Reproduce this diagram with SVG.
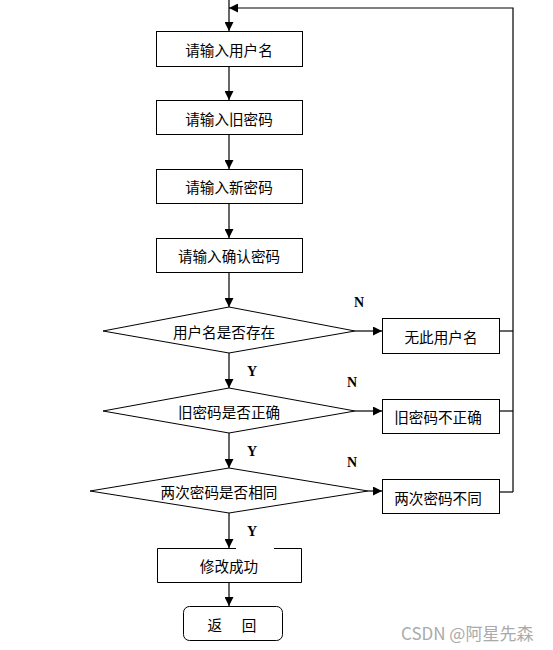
<svg xmlns="http://www.w3.org/2000/svg" width="553" height="650" viewBox="0 0 553 650">
<style>
.box{fill:#fff;stroke:#000;stroke-width:1}
.ln{fill:none;stroke:#000;stroke-width:1.2}
.t{font-family:"Noto Sans CJK SC","Noto Sans",sans-serif;font-size:14.6px;fill:#000;text-anchor:middle;dominant-baseline:central}
.yn{font-family:"Liberation Serif",serif;font-size:14px;font-weight:bold;fill:#000;text-anchor:middle;dominant-baseline:central}
.wm{font-family:"Noto Sans CJK SC","Noto Sans",sans-serif;font-size:17px;fill:#aaa;dominant-baseline:central}
</style>
<defs>
<marker id="ah" viewBox="0 0 10 10" refX="10" refY="5" markerWidth="9" markerHeight="9" markerUnits="userSpaceOnUse" orient="auto">
<path d="M0,0 L10,5 L0,10 z" fill="#000"/>
</marker>
</defs>
<rect width="553" height="650" fill="#fff"/>
<g id="connectors">
<path class="ln" d="M229,0 V31" marker-end="url(#ah)"/>
<path class="ln" d="M513,492 V8 H229" marker-end="url(#ah)"/>
<path class="ln" d="M229,67 V100" marker-end="url(#ah)"/>
<path class="ln" d="M229,135 V169" marker-end="url(#ah)"/>
<path class="ln" d="M229,204 V238" marker-end="url(#ah)"/>
<path class="ln" d="M229,272 V307" marker-end="url(#ah)"/>
<path class="ln" d="M229,353 V388" marker-end="url(#ah)"/>
<path class="ln" d="M229,433 V468" marker-end="url(#ah)"/>
<path class="ln" d="M229,513 V548" marker-end="url(#ah)"/>
<path class="ln" d="M229,582 V606" marker-end="url(#ah)"/>
<path class="ln" d="M355,331 H382" marker-end="url(#ah)"/>
<path class="ln" d="M355,411 H382" marker-end="url(#ah)"/>
<path class="ln" d="M368,491 H382" marker-end="url(#ah)"/>
<path class="ln" d="M500,331 H513"/>
<path class="ln" d="M500,411 H513"/>
<path class="ln" d="M500,492 H513"/>
<text class="yn" x="359" y="302">N</text>
<text class="yn" x="352" y="382">N</text>
<text class="yn" x="352" y="462">N</text>
<text class="yn" x="252" y="371">Y</text>
<text class="yn" x="252" y="451">Y</text>
<text class="yn" x="252" y="531">Y</text>
</g>
<g id="n1"><rect class="box" x="156.5" y="31.5" width="146" height="35"/><text class="t" x="229" y="49">请输入用户名</text></g>
<g id="n2"><rect class="box" x="156.5" y="100.5" width="146" height="34"/><text class="t" x="229" y="118">请输入旧密码</text></g>
<g id="n3"><rect class="box" x="156.5" y="169.5" width="146" height="34"/><text class="t" x="229" y="186">请输入新密码</text></g>
<g id="n4"><rect class="box" x="156.5" y="238.5" width="146" height="34"/><text class="t" x="229" y="255">请输入确认密码</text></g>
<g id="d1"><polygon class="box" points="229,307 355,331 229,353 103,331"/><text class="t" x="224" y="331">用户名是否存在</text></g>
<g id="e1"><rect class="box" x="382.5" y="318.5" width="117" height="35"/><text class="t" x="441" y="336">无此用户名</text></g>
<g id="d2"><polygon class="box" points="229,388 355,411 229,433 103,411"/><text class="t" x="229" y="411">旧密码是否正确</text></g>
<g id="e2"><rect class="box" x="382.5" y="399.5" width="117" height="34"/><text class="t" x="438" y="416">旧密码不正确</text></g>
<g id="d3"><polygon class="box" points="229,468 368,491 229,513 90,491"/><text class="t" x="219" y="491">两次密码是否相同</text></g>
<g id="e3"><rect class="box" x="382.5" y="479.5" width="117" height="34"/><text class="t" x="438" y="497">两次密码不同</text></g>
<g id="n5"><rect x="157.5" y="548.5" width="144" height="34" fill="#fff"/><path class="ln" style="stroke-width:1" d="M236,548.5 H157.5 V582.5 H301.5 V548.5 H274"/><text class="t" x="229" y="565">修改成功</text></g>
<g id="n6"><rect class="box" x="183.5" y="606.5" width="99" height="34" rx="6"/><text class="t" x="232" y="624" xml:space="preserve">返      回</text></g>
<text class="wm" x="401" y="632">CSDN @阿星先森</text>
</svg>
